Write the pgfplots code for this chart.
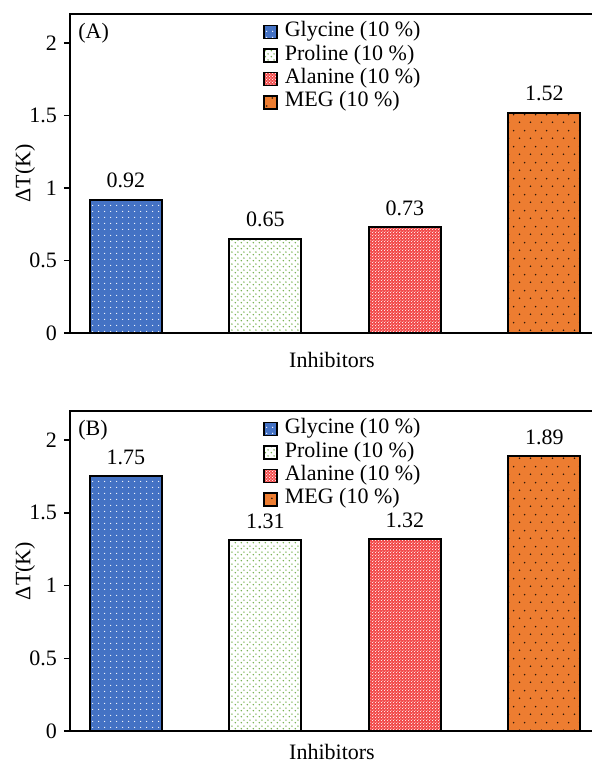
\documentclass[border=0pt]{standalone}
\usepackage{fontspec}
\setmainfont{Liberation Serif}
\usepackage{pgfplots}
\pgfplotsset{compat=1.18}
\usetikzlibrary{patterns.meta}

\definecolor{gly}{HTML}{4472C4}
\definecolor{pro}{HTML}{70AD47}
\definecolor{ala}{HTML}{F24C4C}
\definecolor{meg}{HTML}{ED7D31}

% fill textures for the four inhibitors
\tikzdeclarepattern{name=griddots, type=uncolored,
  bounding box={(0,0) and (3pt,3pt)}, tile size={(3pt,3pt)},
  code={\fill (1.5pt,1.5pt) circle (0.38pt);}}
\tikzdeclarepattern{name=stagdots, type=uncolored,
  bounding box={(0,0) and (3pt,3pt)}, tile size={(3pt,3pt)},
  code={\fill (0.75pt,0.75pt) circle (0.45pt); \fill (2.25pt,2.25pt) circle (0.45pt);}}
\tikzdeclarepattern{name=finecheck, type=uncolored,
  bounding box={(0,0) and (1.4pt,1.4pt)}, tile size={(1.4pt,1.4pt)},
  code={\fill (0,0) rectangle (0.45pt,0.45pt); \fill (0.7pt,0.7pt) rectangle (1.15pt,1.15pt);}}
\tikzdeclarepattern{name=sparsedots, type=uncolored,
  bounding box={(0,0) and (5.5pt,8pt)}, tile size={(5.5pt,8pt)},
  code={\fill (1.375pt,2pt) circle (0.45pt); \fill (4.125pt,6pt) circle (0.45pt);}}

\newcommand{\fsz}{\fontsize{11}{13}\selectfont}

\pgfplotsset{
  panel/.style={
    scale only axis, width=262pt,
    xmin=-0.401, xmax=3.355, ymin=0, ymax=2.2,
    ytick={0,0.5,1,1.5,2}, xtick=\empty,
    ytick pos=left, tick align=outside, major tick length=3pt,
    axis line style={line width=0.7pt},
    every tick/.style={line width=0.7pt, black},
    ybar, bar width=36pt, bar shift=0pt,
    /pgf/number format/assume math mode=true,
    ticklabel style={font=\fsz},
    ylabel={ΔT(K)}, xlabel={Inhibitors},
    every axis y label/.style={at={(axis description cs:0,0.5)}, xshift=-22.5pt,
      rotate=90, anchor=center, font=\fsz},
    every axis x label/.style={at={(axis description cs:0.5,0)}, yshift=-#1,
      anchor=center, font=\fsz},
    nodes near coords={\pgfmathprintnumber[fixed,fixed zerofill,precision=2]{\pgfplotspointmeta}},
    every node near coord/.append style={font=\fsz, yshift=2pt, black},
    legend image code/.code={\draw[##1, line width=0.8pt] (0pt,-3.25pt) rectangle (6.5pt,3.25pt);},
    legend style={draw=none, fill=none, font=\fsz, inner sep=0pt,
      at={(rel axis cs:0.368,1)}, anchor=north west, yshift=-3pt,
      row sep=0pt, column sep=2.5pt,
      nodes={inner sep=1pt, text height=7.2pt, text depth=2.5pt}},
    legend cell align=left,
    clip=false,
  },
  bar gly/.style={fill=gly, draw=black, line width=1pt, postaction={pattern=griddots, pattern color=white}},
  bar pro/.style={fill=white, draw=black, line width=1pt, postaction={pattern=stagdots, pattern color=pro}},
  bar ala/.style={fill=ala, draw=black, line width=1pt, postaction={pattern=finecheck, pattern color=white!85!ala}},
  bar meg/.style={fill=meg, draw=black, line width=1pt, postaction={pattern=sparsedots, pattern color=black!80!meg}},
}

\begin{document}
\begin{tikzpicture}
% panel (A)
\begin{axis}[panel=13.5pt, height=159.5pt, at={(35pt,216.5pt)}, anchor=south west]
  \addplot[bar gly] coordinates {(0,0.92)};
  \addplot[bar pro] coordinates {(1,0.65)};
  \addplot[bar ala] coordinates {(2,0.73)};
  \addplot[bar meg] coordinates {(3,1.52)};
  \legend{Glycine (10 \%), Proline (10 \%), Alanine (10 \%), MEG (10 \%)}
  \node[anchor=west, font=\fsz, inner sep=0pt] at ([xshift=4pt,yshift=-9.5pt]rel axis cs:0,1) {(A)};
\end{axis}
% panel (B)
\begin{axis}[panel=10.5pt, height=160pt, at={(35pt,17.5pt)}, anchor=south west]
  \addplot[bar gly] coordinates {(0,1.75)};
  \addplot[bar pro] coordinates {(1,1.31)};
  \addplot[bar ala] coordinates {(2,1.32)};
  \addplot[bar meg] coordinates {(3,1.89)};
  \legend{Glycine (10 \%), Proline (10 \%), Alanine (10 \%), MEG (10 \%)}
  \node[anchor=west, font=\fsz, inner sep=0pt] at ([xshift=4pt,yshift=-9.5pt]rel axis cs:0,1) {(B)};
\end{axis}
\pgfresetboundingbox
\useasboundingbox (0,0) rectangle (295.5pt,383pt);
\end{tikzpicture}
\end{document}
